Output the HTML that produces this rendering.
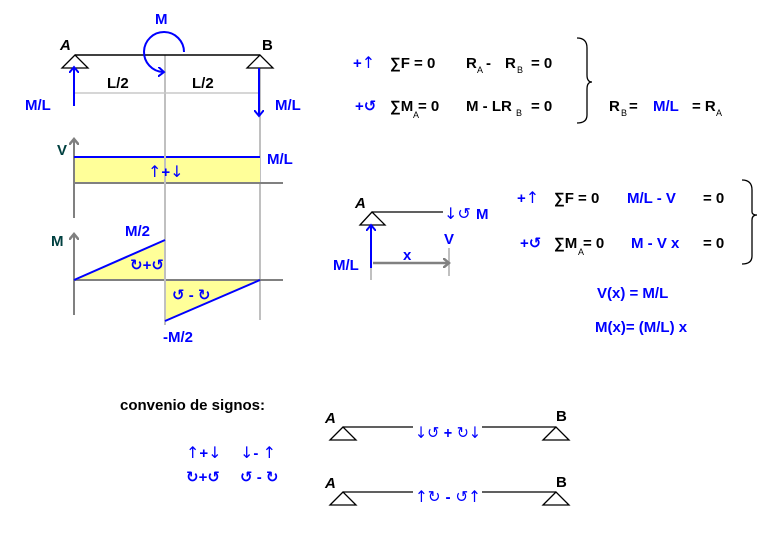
<!DOCTYPE html>
<html><head><meta charset="utf-8"><style>
html,body{margin:0;padding:0;background:#fff}
svg{display:block}
text{font-family:"Liberation Sans","DejaVu Sans",sans-serif;font-size:15px;font-weight:bold}
.b{fill:#0000ff}.k{fill:#000}.s{font-size:9px;font-weight:normal}
.ar{font-family:"DejaVu Sans",sans-serif;font-size:16px;font-weight:normal}
</style></head><body>
<svg width="784" height="534" viewBox="0 0 784 534" xmlns="http://www.w3.org/2000/svg">
<defs>
<marker id="ab" markerWidth="10" markerHeight="10" refX="5" refY="5" orient="auto" markerUnits="userSpaceOnUse"><path d="M0,0 L6,5 L0,10" fill="none" stroke="#00f" stroke-width="2"/></marker>
<marker id="ag" markerWidth="10" markerHeight="10" refX="5" refY="5" orient="auto" markerUnits="userSpaceOnUse"><path d="M0,0 L6,5 L0,10" fill="none" stroke="#808080" stroke-width="2.5"/></marker>
</defs>
<g stroke="#c0c0c0" stroke-width="2"><line x1="165" y1="55" x2="165" y2="325"/><line x1="260" y1="67" x2="260" y2="320"/></g>
<line x1="75" y1="93" x2="260" y2="93" stroke="#c8c8c8" stroke-width="1.5"/>
<line x1="75" y1="55" x2="260" y2="55" stroke="#000" stroke-width="1.5"/>
<path d="M75,55 L62,68 L88,68 Z" fill="#fff" stroke="#000" stroke-width="1.3"/>
<path d="M260,55 L247,68 L273,68 Z" fill="#fff" stroke="#000" stroke-width="1.3"/>
<text x="60" y="50" class="k" font-style="italic">A</text><text x="262" y="50" class="k">B</text>
<text x="155" y="24" class="b">M</text>
<path d="M184,52 A20,20 0 1 0 163,72" fill="none" stroke="#00f" stroke-width="2" marker-end="url(#ab)"/>
<text x="107" y="88" class="k">L/2</text><text x="192" y="88" class="k">L/2</text>
<line x1="74" y1="106" x2="74" y2="68" stroke="#00f" stroke-width="2" marker-end="url(#ab)"/>
<text x="25" y="110" class="b">M/L</text>
<line x1="259" y1="68" x2="259" y2="115" stroke="#00f" stroke-width="2" marker-end="url(#ab)"/>
<text x="275" y="110" class="b">M/L</text>
<rect x="74" y="157" width="186" height="26" fill="#ffff99"/>
<line x1="74" y1="218" x2="74" y2="140" stroke="#808080" stroke-width="2" marker-end="url(#ag)"/>
<text x="57" y="155" fill="#004040">V</text>
<line x1="74" y1="183" x2="283" y2="183" stroke="#808080" stroke-width="2"/>
<line x1="74" y1="157" x2="260" y2="157" stroke="#00f" stroke-width="2"/>
<line x1="165" y1="150" x2="165" y2="190" stroke="#c0c0c0" stroke-width="2"/>
<text x="148" y="177" class="b ar">↑<tspan font-weight="bold" font-family="Liberation Sans" font-size="15">+</tspan>↓</text>
<text x="267" y="164" class="b">M/L</text>
<polygon points="74,280 165,240 165,280" fill="#ffff99"/>
<polygon points="165,280 260,280 165,321" fill="#ffff99"/>
<line x1="74" y1="315" x2="74" y2="235" stroke="#808080" stroke-width="2" marker-end="url(#ag)"/>
<text x="51" y="246" fill="#004040">M</text>
<line x1="74" y1="280" x2="283" y2="280" stroke="#808080" stroke-width="2"/>
<line x1="165" y1="235" x2="165" y2="325" stroke="#c0c0c0" stroke-width="2"/>
<line x1="74" y1="280" x2="165" y2="240" stroke="#00f" stroke-width="2"/>
<line x1="165" y1="321" x2="260" y2="280" stroke="#00f" stroke-width="2"/>
<text x="125" y="236" class="b">M/2</text>
<text x="163" y="342" class="b">-M/2</text>
<text x="130" y="270" class="b" font-size="13">↻+↺</text>
<text x="172" y="300" class="b" font-size="13">↺ - ↻</text>
<text x="353" y="68" class="b">+<tspan class="ar">↑</tspan></text><text x="390" y="68" class="k">∑F = 0</text>
<text x="466" y="68" class="k">R</text><text x="477" y="73" class="k s">A</text><text x="486" y="68" class="k">-</text>
<text x="505" y="68" class="k">R</text><text x="517" y="73" class="k s">B</text><text x="531" y="68" class="k">= 0</text>
<text x="355" y="111" class="b">+↺</text><text x="390" y="111" class="k">∑M</text><text x="413" y="118" class="k s">A</text><text x="418" y="111" class="k">= 0</text>
<text x="466" y="111" class="k">M - LR</text><text x="516" y="116" class="k s">B</text><text x="531" y="111" class="k">= 0</text>
<path d="M577,38 Q587,38 587,48 L587,75 Q587,82 592,82 Q587,82 587,89 L587,115 Q587,123 577,123" fill="none" stroke="#000" stroke-width="1.3"/>
<text x="609" y="111" class="k">R</text><text x="621" y="116" class="k s">B</text><text x="629" y="111" class="k">=</text>
<text x="653" y="111" class="b">M/L</text><text x="692" y="111" class="k">= R</text><text x="716" y="116" class="k s">A</text>
<line x1="372" y1="212" x2="443" y2="212" stroke="#000" stroke-width="1.3"/>
<path d="M372,212 L360,225 L385,225 Z" fill="#fff" stroke="#000" stroke-width="1.3"/>
<text x="355" y="208" class="k" font-style="italic">A</text>
<line x1="371" y1="226" x2="371" y2="280" stroke="#c0c0c0" stroke-width="2"/>
<line x1="449" y1="248" x2="449" y2="276" stroke="#c0c0c0" stroke-width="2"/>
<line x1="371" y1="268" x2="371" y2="226" stroke="#00f" stroke-width="2" marker-end="url(#ab)"/>
<line x1="373" y1="263" x2="448" y2="263" stroke="#808080" stroke-width="2.5" marker-end="url(#ag)"/>
<text x="403" y="260" class="b">x</text>
<text x="444" y="219" class="b ar">↓↺</text><text x="476" y="219" class="b">M</text>
<text x="444" y="244" class="b">V</text>
<text x="333" y="270" class="b">M/L</text>
<text x="517" y="203" class="b">+<tspan class="ar">↑</tspan></text><text x="554" y="203" class="k">∑F = 0</text><text x="627" y="203" class="b">M/L - V</text><text x="703" y="203" class="k">= 0</text>
<text x="520" y="248" class="b">+↺</text><text x="554" y="248" class="k">∑M</text><text x="578" y="255" class="k s">A</text><text x="583" y="248" class="k">= 0</text><text x="631" y="248" class="b">M - V x</text><text x="703" y="248" class="k">= 0</text>
<path d="M742,180 Q752,180 752,190 L752,212 Q752,215 757,215 Q752,215 752,220 L752,256 Q752,264 742,264" fill="none" stroke="#000" stroke-width="1.3"/>
<text x="597" y="298" class="b">V(x) =  M/L</text>
<text x="595" y="332" class="b">M(x)=  (M/L) x</text>
<text x="120" y="410" class="k" font-weight="normal">convenio de signos:</text>
<text x="186" y="458" class="b ar">↑<tspan font-weight="bold" font-family="Liberation Sans" font-size="15">+</tspan>↓</text><text x="240" y="458" class="b ar">↓<tspan font-weight="bold" font-family="Liberation Sans" font-size="15">- </tspan>↑</text>
<text x="186" y="482" class="b" font-size="13">↻+↺</text><text x="240" y="482" class="b" font-size="13">↺ - ↻</text>
<text x="325" y="423" class="k" font-style="italic">A</text><text x="556" y="421" class="k">B</text>
<line x1="343" y1="427" x2="413" y2="427" stroke="#000" stroke-width="1.3"/><line x1="482" y1="427" x2="556" y2="427" stroke="#000" stroke-width="1.3"/>
<path d="M343,427 L330,440 L356,440 Z" fill="#fff" stroke="#000" stroke-width="1.3"/>
<path d="M556,427 L543,440 L569,440 Z" fill="#fff" stroke="#000" stroke-width="1.3"/>
<text x="415" y="438" class="b ar" font-size="14" textLength="66" lengthAdjust="spacingAndGlyphs">↓↺ <tspan font-weight="bold" font-family="Liberation Sans">+</tspan> ↻↓</text>
<text x="325" y="488" class="k" font-style="italic">A</text><text x="556" y="487" class="k">B</text>
<line x1="343" y1="492" x2="413" y2="492" stroke="#000" stroke-width="1.3"/><line x1="482" y1="492" x2="556" y2="492" stroke="#000" stroke-width="1.3"/>
<path d="M343,492 L330,505 L356,505 Z" fill="#fff" stroke="#000" stroke-width="1.3"/>
<path d="M556,492 L543,505 L569,505 Z" fill="#fff" stroke="#000" stroke-width="1.3"/>
<text x="415" y="502" class="b ar" font-size="14" textLength="66" lengthAdjust="spacingAndGlyphs">↑↻ <tspan font-weight="bold" font-family="Liberation Sans">-</tspan> ↺↑</text>
</svg>
</body></html>
